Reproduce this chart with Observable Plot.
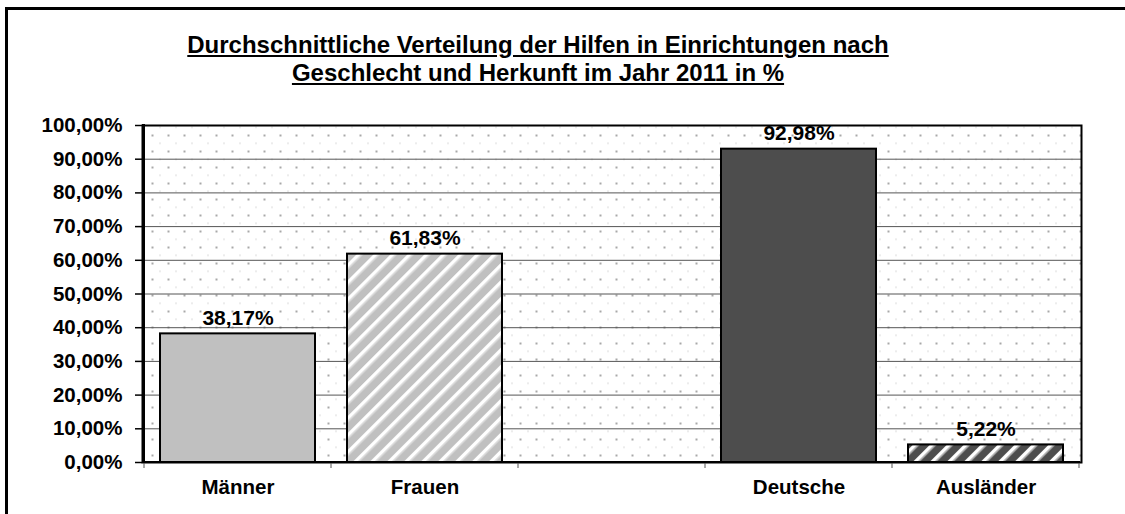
<!DOCTYPE html>
<html><head><meta charset="utf-8">
<script src="https://cdn.jsdelivr.net/npm/d3@7"></script>
<script src="https://cdn.jsdelivr.net/npm/@observablehq/plot@0.6"></script>
<style>
body{margin:0;background:#fff;font-family:Arial,"Liberation Sans",sans-serif;}
#wrap{position:relative;width:1125px;height:514px;overflow:hidden;background:#fff;}
#border{position:absolute;left:5px;top:7px;width:1200px;height:600px;border-left:3px solid #000;border-top:3px solid #000;}
#title{position:absolute;left:0;top:31px;width:1076px;text-align:center;font-weight:bold;font-size:24px;line-height:28px;text-decoration:underline;color:#000;}
#chart{position:absolute;left:0;top:0;}
</style></head>
<body>
<div id="wrap"><div id="border"></div><div id="chart"></div>
<div id="title">Durchschnittliche Verteilung der Hilfen in Einrichtungen nach<br>Geschlecht und Herkunft im Jahr 2011 in %</div></div>
<script>
const categories = ["Männer", "Frauen", "", "Deutsche", "Ausländer"];
const shares = [38.17, 61.83, null, 92.98, 5.22];
const yTicks = [0, 10, 20, 30, 40, 50, 60, 70, 80, 90, 100];

const fillFor = {
  "Männer": "#c0c0c0",
  "Frauen": "url(#stripesLight)",
  "Deutsche": "#4d4d4d",
  "Ausländer": "url(#stripesDark)"
};
const fmt = v => v.toFixed(2).replace(".", ",") + "%";
const data = categories.map((c, i) => ({category: c, share: shares[i]})).filter(d => d.share != null);

const boundaryTicks = (index, scales, values, dim) => {
  const x = scales.x, y = scales.y;
  const g = d3.create("svg:g");
  const step = x(categories[1]) - x(categories[0]);
  const bw = x.bandwidth ? x.bandwidth() : step * (1 - 0.17);
  const half = (step - bw) / 2;
  const edges = categories.map(c => x(c) - half).concat([x(categories[categories.length - 1]) + bw + half]);
  const y0 = y(0);
  g.selectAll("line.t").data(edges).join("line")
    .attr("x1", d => d).attr("x2", d => d).attr("y1", y0).attr("y2", y0 + 6)
    .attr("stroke", "#555").attr("stroke-width", 1);
  g.append("line").attr("x1", edges[0] - 0.5).attr("x2", edges[0] - 0.5)
    .attr("y1", y(100) - 1).attr("y2", y0 + 1).attr("stroke", "#000").attr("stroke-width", 3);
  g.append("line").attr("x1", edges[0] - 1).attr("x2", edges[edges.length - 1] + 1)
    .attr("y1", y0).attr("y2", y0).attr("stroke", "#000").attr("stroke-width", 2);
  return g.node();
};

const chart = Plot.plot({
  width: 1125,
  height: 514,
  marginTop: 125,
  marginBottom: 52,
  marginLeft: 142,
  marginRight: 44,
  style: {fontFamily: "Arial, 'Liberation Sans', sans-serif", fontWeight: "bold", fontSize: "20.5px", color: "#000", background: "transparent"},
  x: {domain: categories, paddingInner: 0.17, paddingOuter: 0.085, label: null},
  y: {domain: [0, 100], label: null},
  color: {type: "identity"},
  marks: [
    Plot.frame({fill: "url(#dots)", stroke: null}),
    Plot.gridY(yTicks, {stroke: "#555", strokeOpacity: 1, strokeWidth: 1}),
    Plot.barY(data, {x: "category", y: "share", fill: d => fillFor[d.category], stroke: "#000", strokeWidth: 2}),
    Plot.text(data, {x: "category", y: "share", text: d => fmt(d.share), dy: -16, lineAnchor: "middle", fill: "#000", fontSize: 21}),
    Plot.frame({stroke: "#000", strokeWidth: 2}),
    Plot.axisY(yTicks, {tickSize: 7, tickPadding: 13, tickFormat: d => fmt(d), stroke: "#000", strokeWidth: 1.5}),
    Plot.axisX({tickSize: 0, tickPadding: 17}),
    boundaryTicks
  ]
});

const svg = chart.tagName.toLowerCase() === "svg" ? chart : chart.querySelector("svg");
const defs = d3.select(svg).insert("defs", ":first-child");
const dots = defs.append("pattern").attr("id", "dots").attr("patternUnits", "userSpaceOnUse")
  .attr("width", 16).attr("height", 16);
dots.append("rect").attr("x", 7).attr("y", 6).attr("width", 2).attr("height", 2).attr("fill", "#a8a8a8");
dots.append("rect").attr("x", 15).attr("y", 14).attr("width", 1.5).attr("height", 1.5).attr("fill", "#cccccc");
function stripes(id, base) {
  const p = defs.append("pattern").attr("id", id).attr("patternUnits", "userSpaceOnUse")
    .attr("width", 12).attr("height", 12).attr("patternTransform", "rotate(45)");
  p.append("rect").attr("width", 12).attr("height", 12).attr("fill", base);
  p.append("rect").attr("x", 0).attr("width", 3.5).attr("height", 12).attr("fill", "#ffffff");
  p.append("rect").attr("x", 3.5).attr("width", 1).attr("height", 12).attr("fill", "#e6e6e6");
}
stripes("stripesLight", "#c0c0c0");
stripes("stripesDark", "#4d4d4d");

document.getElementById("chart").appendChild(chart);
</script>
</body></html>
